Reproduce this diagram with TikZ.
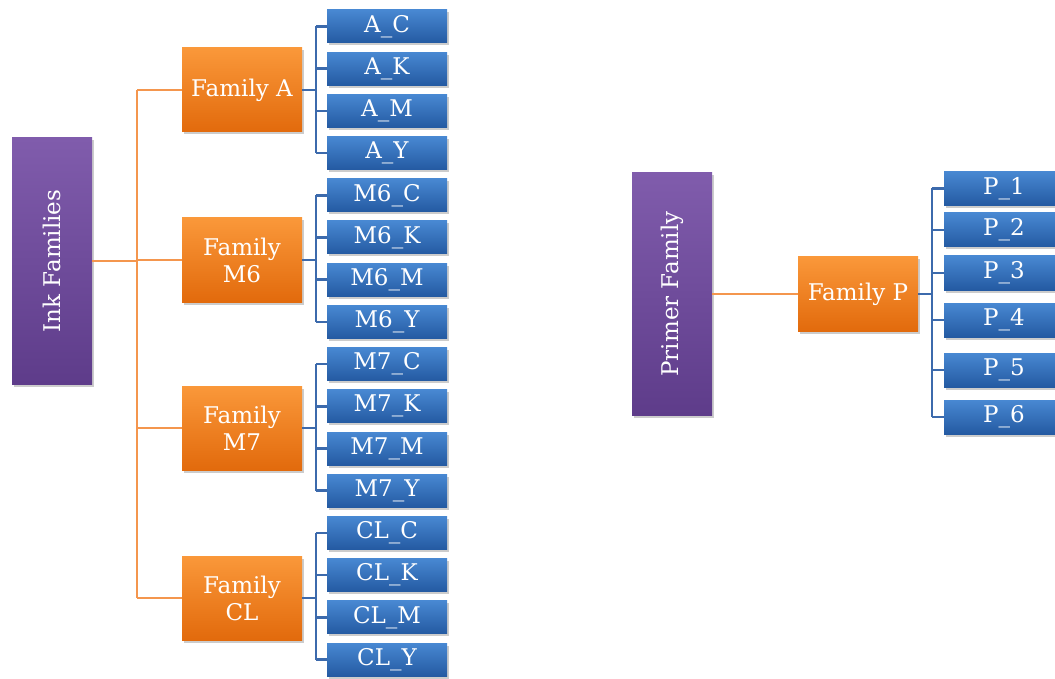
\documentclass[tikz,border=0pt]{standalone}
\usepackage{fontspec}
\setmainfont{DejaVu Serif}
\usetikzlibrary{shadows}

\definecolor{purpletop}{RGB}{128,92,172}
\definecolor{purplebot}{RGB}{94,60,138}
\definecolor{orangetop}{RGB}{250,152,58}
\definecolor{orangebot}{RGB}{226,106,12}
\definecolor{bluetop}{RGB}{72,136,210}
\definecolor{bluebot}{RGB}{36,90,162}
\definecolor{orangewire}{RGB}{244,150,78}
\definecolor{bluewire}{RGB}{60,106,172}

\tikzset{
  box/.style={rectangle, text=white, align=center, inner sep=2pt,
    drop shadow={opacity=0.4, shadow xshift=1.5pt, shadow yshift=-2.5pt}},
  rootbox/.style={box, top color=purpletop, bottom color=purplebot,
    minimum width=80pt},
  fambox/.style={box, top color=orangetop, bottom color=orangebot,
    minimum width=120pt, minimum height=84pt},
  leaf/.style={box, top color=bluetop, bottom color=bluebot,
    minimum width=120pt, minimum height=33pt},
  orangebranch/.style={draw=orangewire, line width=2.5pt},
  bluebranch/.style={draw=bluewire, line width=2.5pt}
}

\begin{document}
\begin{tikzpicture}[x=1pt, y=-1pt, font=\fontsize{23}{27}\selectfont]
  \useasboundingbox (0,0) rectangle (1055,679);
  \clip (0,0) rectangle (1055,679);

  % Ink families
  \node[rootbox, minimum height=246pt] (ink) at (52,261) {\rotatebox{90}{Ink Families}};
  \coordinate (trunk) at (137,261);

  \foreach \fam/\txt/\y in {A/{Family A}/90, M6/{Family\\M6}/260,
                            M7/{Family\\M7}/428, CL/{Family\\CL}/598}
    \node[fambox] (fam\fam) at (242,\y) {\txt};

  \foreach \fam [count=\i from 0] in {A, M6, M7, CL}
    \foreach \ink [count=\j from 0] in {C, K, M, Y} {
      \pgfmathsetmacro\yy{26.5+42.2*(4*\i+\j)}
      \node[leaf] (\fam\ink) at (387,\yy) {\fam\_\ink};
    }

  % orange trunk
  \draw[orangebranch] (ink.east) -- (trunk);
  \draw[orangebranch] (trunk |- famA.west) -- (trunk |- famCL.west);
  \foreach \fam in {A, M6, M7, CL}
    \draw[orangebranch] (trunk |- fam\fam.west) -- (fam\fam.west);

  % blue brackets
  \foreach \fam in {A, M6, M7, CL} {
    \draw[bluebranch] (fam\fam.east) -- ++(14,0) coordinate (br\fam);
    \draw[bluebranch] (br\fam |- \fam C.west) -- (br\fam |- \fam Y.west);
    \foreach \ink in {C, K, M, Y}
      \draw[bluebranch] (br\fam |- \fam\ink.west) -- (\fam\ink.west);
  }

  % Primer family
  \node[rootbox, minimum height=242pt] (primer) at (672,294) {\rotatebox{90}{Primer Family}};
  \node[fambox, minimum height=75pt] (famP) at (858,294) {Family P};
  \foreach \k/\y in {1/188.5, 2/230, 3/273, 4/320, 5/370, 6/417}
    \node[leaf, minimum height=34pt] (P\k) at (1004,\y) {P\_\k};

  \draw[orangebranch] (primer.east) -- (famP.west);
  \draw[bluebranch] (famP.east) -- ++(14,0) coordinate (brP);
  \draw[bluebranch] (brP |- P1.west) -- (brP |- P6.west);
  \foreach \k in {1,...,6}
    \draw[bluebranch] (brP |- P\k.west) -- (P\k.west);
\end{tikzpicture}
\end{document}
